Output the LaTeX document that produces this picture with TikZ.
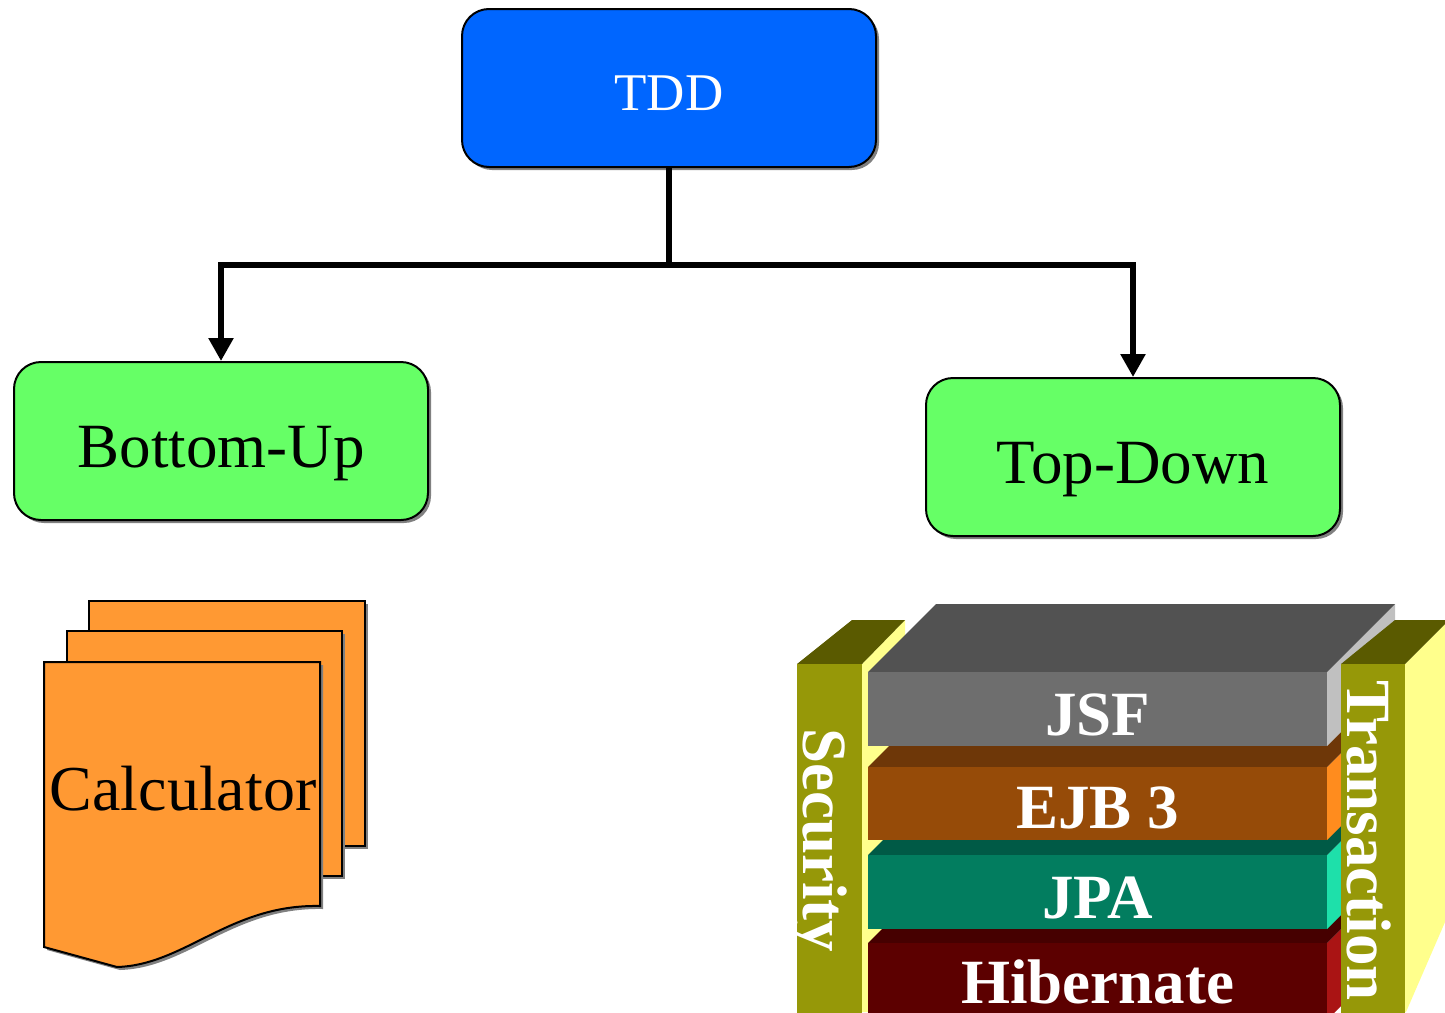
\documentclass[tikz,border=0pt]{standalone}
\usepackage{fontspec}
\setmainfont{Liberation Serif}
\usetikzlibrary{arrows.meta,shadows}
\definecolor{tddblue}{RGB}{0,102,255}
\definecolor{boxgreen}{RGB}{102,255,102}
\definecolor{docorange}{RGB}{255,153,51}
\definecolor{olivefront}{RGB}{150,152,8}
\definecolor{olivetop}{RGB}{90,90,0}
\definecolor{pillarside}{RGB}{255,255,140}
\definecolor{jsfTop}{RGB}{82,82,82}
\definecolor{jsfFront}{RGB}{110,110,110}
\definecolor{jsfSide}{RGB}{192,192,192}
\definecolor{ejbTop}{RGB}{110,55,8}
\definecolor{ejbFront}{RGB}{150,75,8}
\definecolor{ejbSide}{RGB}{255,140,30}
\definecolor{jpaTop}{RGB}{0,90,70}
\definecolor{jpaFront}{RGB}{2,125,95}
\definecolor{jpaSide}{RGB}{30,224,170}
\definecolor{hibTop}{RGB}{70,0,0}
\definecolor{hibFront}{RGB}{92,0,0}
\definecolor{hibSide}{RGB}{170,20,20}
\newcommand\stackblock[3]{%
  \fill[#3Side] (1327,#1) -- (1395,#1-68) -- (1395,#2-68) -- (1327,#2) -- cycle;
  \fill[#3Top] (868,#1) -- (936,#1-68) -- (1395,#1-68) -- (1327,#1) -- cycle;
  \fill[#3Front] (868,#1) rectangle (1327,#2);
}
\begin{document}
\begin{tikzpicture}[x=1pt,y=-1pt,
  box/.style={draw=black, line width=2pt, rounded corners=27pt,
    minimum width=414pt, minimum height=158pt, inner sep=0pt,
    font=\fontsize{63pt}{70pt}\selectfont, text height=52pt, text depth=0pt,
    drop shadow={shadow xshift=3pt, shadow yshift=-3pt, fill=black!50, opacity=1}},
  conn/.style={line width=5.5pt, draw=black},
  tip/.style={-{Triangle[width=24pt,length=23pt]}},
  page/.style={fill=docorange, draw=black, line width=2pt},
  pageshadow/.style={fill=black!50, xshift=3pt, yshift=-3pt},
  blocktext/.style={text=white, font=\fontsize{63pt}{70pt}\selectfont\bfseries, anchor=base, inner sep=0pt},
  pillartext/.style={text=white, font=\fontsize{63pt}{70pt}\selectfont\bfseries, anchor=base, rotate=-90, inner sep=0pt}]
\useasboundingbox (0,0) rectangle (1445,1012);
\clip (0,0) rectangle (1445,1012);

% top boxes
\node[box, fill=tddblue, text=white, font=\fontsize{53pt}{60pt}\selectfont, text height=44pt] (tdd) at (669,88) {TDD};
\node[box, fill=boxgreen] (bu) at (221,441) {Bottom-Up};
\node[box, fill=boxgreen] (td) at (1133,457) {Top-Down};

% connectors
\coordinate (j) at (669,265);
\draw[conn] (tdd.south) -- (j);
\draw[conn, tip] (j) -| (bu.north);
\draw[conn, tip] (j) -| (td.north);

% calculator multi-document
\fill[pageshadow] (89,601) rectangle (365,846);
\filldraw[page] (89,601) rectangle (365,846);
\fill[pageshadow] (67,631) rectangle (342,876);
\filldraw[page] (67,631) rectangle (342,876);
\fill[pageshadow] (44,662) -- (320,662) -- (320,906) .. controls (230,904) and (185,965) .. (117,967) -- (44,947) -- cycle;
\filldraw[page] (44,662) -- (320,662) -- (320,906) .. controls (230,904) and (185,965) .. (117,967) -- (44,947) -- cycle;
\node[font=\fontsize{64pt}{70pt}\selectfont, anchor=base, inner sep=0pt] (calc) at (183,810) {Calculator};

% security pillar
\fill[pillarside] (862,664) -- (905,620) -- (905,1012) -- (862,1012) -- cycle;
\fill[olivetop] (797,664) -- (852,620) -- (905,620) -- (862,664) -- cycle;
\fill[olivefront] (797,664) rectangle (862,1013);

% stack blocks, bottom first
\stackblock{943}{1020}{hib}
\stackblock{855}{929}{jpa}
\stackblock{767}{840}{ejb}
\stackblock{672}{746}{jsf}

% transaction pillar
\fill[pillarside] (1405,664) -- (1449,620) -- (1576,620) -- (1406,1012) -- (1405,1012) -- cycle;
\fill[olivetop] (1341,664) -- (1395,620) -- (1449,620) -- (1405,664) -- cycle;
\fill[olivefront] (1341,664) rectangle (1405,1013);

% texts
\node[blocktext] (jsf) at (1097.5,735) {JSF};
\node[blocktext] (ejb) at (1097.5,828) {EJB 3};
\node[blocktext] (jpa) at (1097.5,918) {JPA};
\node[blocktext] (hib) at (1097.5,1003) {Hibernate};
\node[pillartext] (sec) at (803,840) {Security};
\node[pillartext] (tra) at (1347,840.5) {Transaction};
\end{tikzpicture}
\end{document}
